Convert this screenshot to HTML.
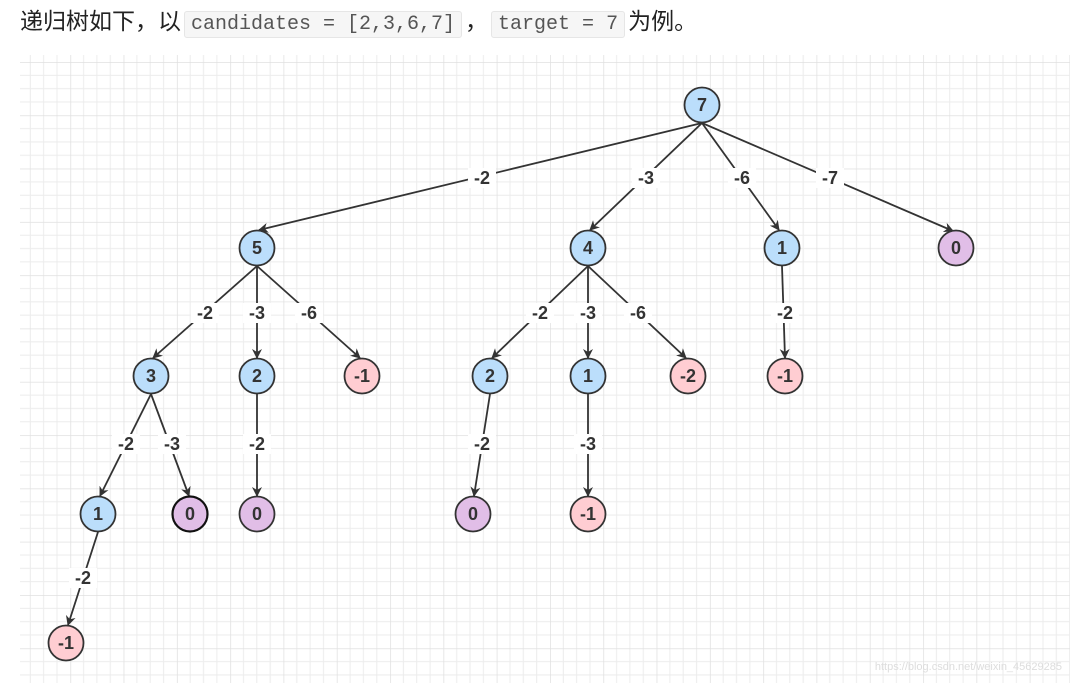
<!DOCTYPE html>
<html><head><meta charset="utf-8"><style>
html,body{margin:0;padding:0;background:#fff;width:1086px;height:686px;overflow:hidden}
.t{position:absolute;left:20px;top:4px;font:23px "Liberation Sans","Noto Sans CJK SC",sans-serif;color:#222;white-space:nowrap;line-height:34px}
.c{font-family:"Liberation Mono",monospace;font-size:20px;color:#555;background:#f6f6f6;border:1px solid #e6e6e6;border-radius:3px;padding:1px 6px;margin:0 3px}
svg{position:absolute;left:0;top:0}
</style></head><body>
<div class="t">递归树如下，以<span class="c">candidates = [2,3,6,7]</span>，<span class="c">target = 7</span>为例。</div>
<svg width="1086" height="686" xmlns="http://www.w3.org/2000/svg">
<defs>
<pattern id="g" x="17" y="62" width="53.3" height="53.3" patternUnits="userSpaceOnUse">
<path d="M13.3 0V53.3M26.6 0V53.3M40 0V53.3M0 13.3H53.3M0 26.6H53.3M0 40H53.3" stroke="#ececec" stroke-width="1" fill="none"/>
<path d="M0 0V53.3M0 0H53.3" stroke="#e0e0e0" stroke-width="1.5" fill="none"/>
</pattern>
<marker id="a" markerWidth="10" markerHeight="10" refX="9" refY="5" orient="auto" markerUnits="userSpaceOnUse"><path d="M0 0L10 5L0 10L3 5Z" fill="#333"/></marker>
</defs>
<rect x="20" y="55" width="1050" height="628" fill="url(#g)"/>
<g stroke="#333" stroke-width="1.8" fill="none" marker-end="url(#a)">
<line x1="702" y1="123" x2="259" y2="230"/>
<line x1="702" y1="123" x2="590" y2="230"/>
<line x1="702" y1="123" x2="779" y2="230"/>
<line x1="702" y1="123" x2="953" y2="231"/>
<line x1="257" y1="266" x2="153" y2="358"/>
<line x1="257" y1="266" x2="257" y2="358"/>
<line x1="257" y1="266" x2="360" y2="358"/>
<line x1="588" y1="266" x2="492" y2="358"/>
<line x1="588" y1="266" x2="588" y2="358"/>
<line x1="588" y1="266" x2="686" y2="358"/>
<line x1="782" y1="266" x2="785" y2="358"/>
<line x1="151" y1="394" x2="100" y2="496"/>
<line x1="151" y1="394" x2="189" y2="496"/>
<line x1="257" y1="394" x2="257" y2="496"/>
<line x1="490" y1="394" x2="474" y2="496"/>
<line x1="588" y1="394" x2="588" y2="496"/>
<line x1="98" y1="532" x2="68" y2="625"/>
</g>
<g font-family="Liberation Sans,DejaVu Sans,sans-serif" font-size="18" font-weight="bold" fill="#333" text-anchor="middle">
<g fill="#fff"><rect x="468" y="168" width="28" height="20"/><rect x="632" y="168" width="28" height="20"/><rect x="728" y="168" width="28" height="20"/><rect x="816" y="168" width="28" height="20"/>
<rect x="191" y="303" width="28" height="20"/><rect x="243" y="303" width="28" height="20"/><rect x="295" y="303" width="28" height="20"/><rect x="526" y="303" width="28" height="20"/><rect x="574" y="303" width="28" height="20"/><rect x="624" y="303" width="28" height="20"/><rect x="771" y="303" width="28" height="20"/>
<rect x="112" y="434" width="28" height="20"/><rect x="158" y="434" width="28" height="20"/><rect x="243" y="434" width="28" height="20"/><rect x="468" y="434" width="28" height="20"/><rect x="574" y="434" width="28" height="20"/><rect x="69" y="568" width="28" height="20"/></g>
<text x="482" y="184">-2</text><text x="646" y="184">-3</text><text x="742" y="184">-6</text><text x="830" y="184">-7</text>
<text x="205" y="319">-2</text><text x="257" y="319">-3</text><text x="309" y="319">-6</text><text x="540" y="319">-2</text><text x="588" y="319">-3</text><text x="638" y="319">-6</text><text x="785" y="319">-2</text>
<text x="126" y="450">-2</text><text x="172" y="450">-3</text><text x="257" y="450">-2</text><text x="482" y="450">-2</text><text x="588" y="450">-3</text><text x="83" y="584">-2</text>
</g>
<g stroke="#333" stroke-width="1.8" font-family="Liberation Sans,DejaVu Sans,sans-serif" font-size="18" font-weight="bold" text-anchor="middle">
<g fill="#bbdefb"><circle cx="702" cy="105" r="17.5"/><circle cx="257" cy="248" r="17.5"/><circle cx="588" cy="248" r="17.5"/><circle cx="782" cy="248" r="17.5"/><circle cx="151" cy="376" r="17.5"/><circle cx="257" cy="376" r="17.5"/><circle cx="490" cy="376" r="17.5"/><circle cx="588" cy="376" r="17.5"/><circle cx="98" cy="514" r="17.5"/></g>
<g fill="#e1bee7"><circle cx="956" cy="248" r="17.5"/><circle cx="190" cy="514" r="17.5" stroke="#111" stroke-width="2.2"/><circle cx="257" cy="514" r="17.5"/><circle cx="473" cy="514" r="17.5"/></g>
<g fill="#ffcdd2"><circle cx="362" cy="376" r="17.5"/><circle cx="688" cy="376" r="17.5"/><circle cx="785" cy="376" r="17.5"/><circle cx="588" cy="514" r="17.5"/><circle cx="66" cy="643" r="17.5"/></g>
<g fill="#333" stroke="none">
<text x="702" y="111">7</text><text x="257" y="254">5</text><text x="588" y="254">4</text><text x="782" y="254">1</text><text x="956" y="254">0</text>
<text x="151" y="382">3</text><text x="257" y="382">2</text><text x="362" y="382">-1</text><text x="490" y="382">2</text><text x="588" y="382">1</text><text x="688" y="382">-2</text><text x="785" y="382">-1</text>
<text x="98" y="520">1</text><text x="190" y="520">0</text><text x="257" y="520">0</text><text x="473" y="520">0</text><text x="588" y="520">-1</text><text x="66" y="649">-1</text>
</g></g>
<text x="1062" y="670" text-anchor="end" font-family="Liberation Sans,sans-serif" font-size="11" fill="#ddd">https://blog.csdn.net/weixin_45629285</text>
</svg>
</body></html>
